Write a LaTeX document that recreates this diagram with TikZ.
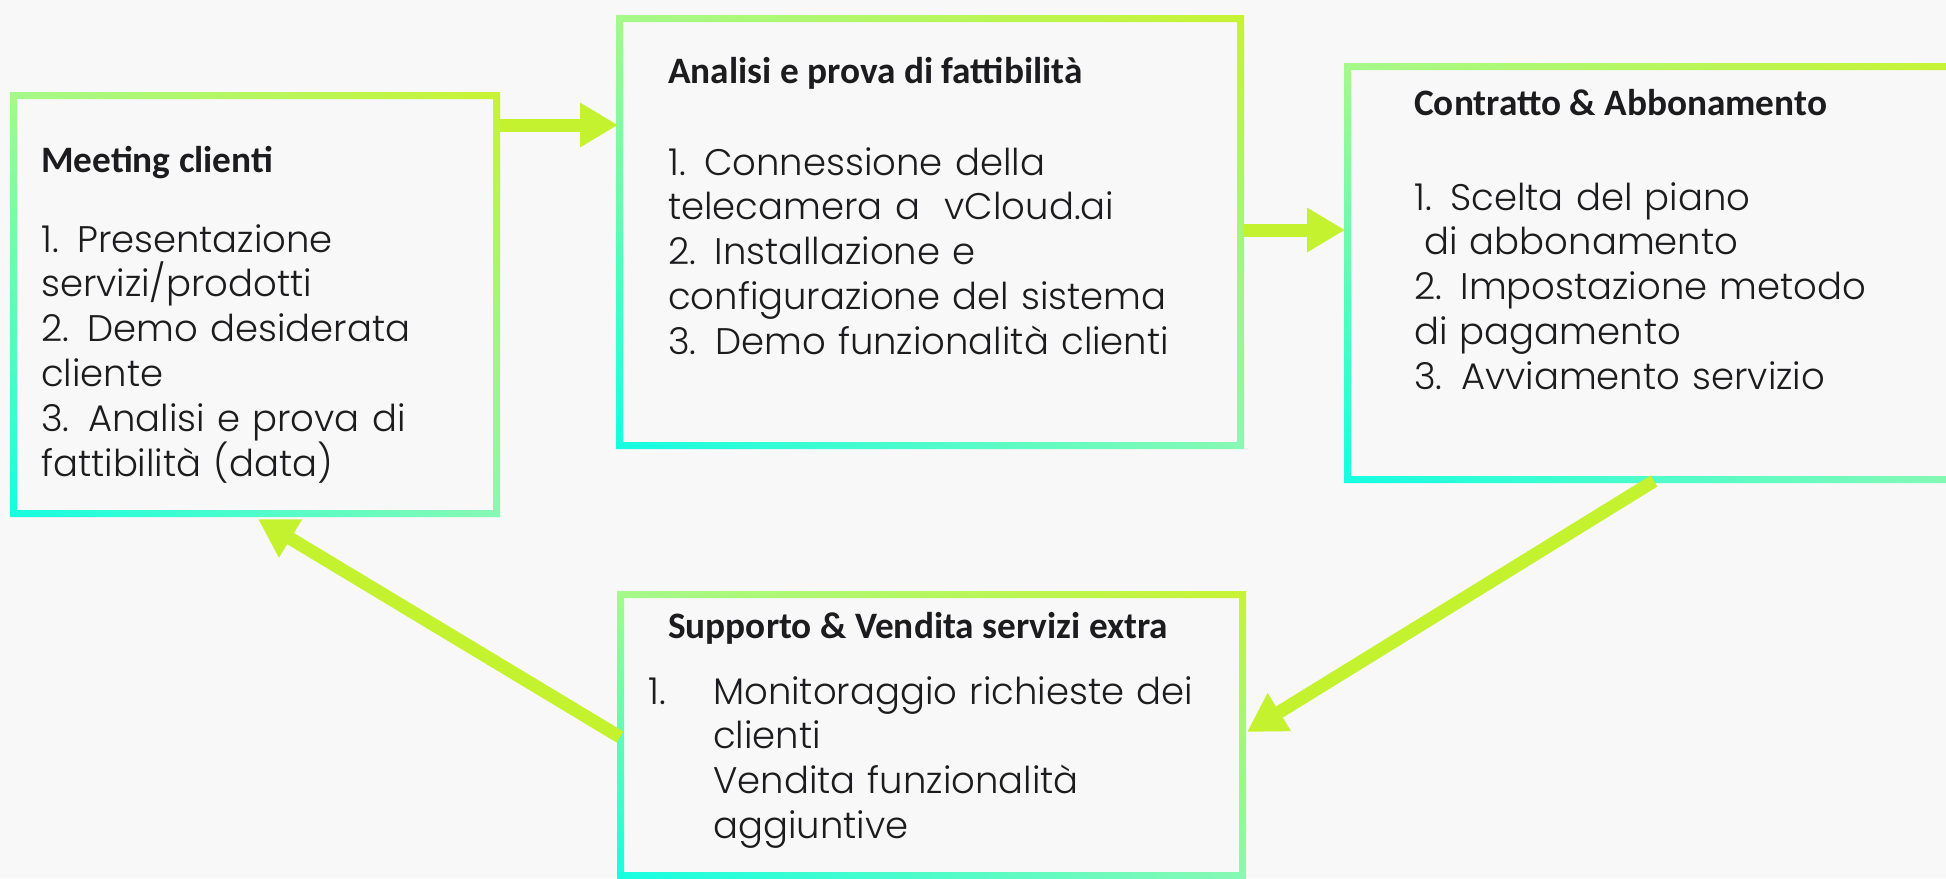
\documentclass[tikz,border=0pt]{standalone}
\usepackage{fontspec}
\newfontfamily\bodyfont{Poppins Light}
\newfontfamily\titlefont{Carlito}
\usetikzlibrary{arrows.meta, positioning, shadings}

\definecolor{pagebg}{RGB}{248,248,248}
\definecolor{framecyan}{RGB}{20,255,226}
\definecolor{framelime}{RGB}{200,243,50}
\definecolor{frametl}{RGB}{165,249,138}
\definecolor{framebr}{RGB}{135,249,180}
\definecolor{arrowlime}{RGB}{196,242,47}
\definecolor{ink}{RGB}{28,28,30}

\begin{document}
\begin{tikzpicture}[x=1pt, y=-1pt,
    stagebox/.style={rectangle, inner sep=0pt, outer sep=0pt, anchor=north west},
    stageframe/.style={even odd rule, lower left=framecyan, upper left=frametl,
        upper right=framelime, lower right=framebr},
    stagetitle/.style={anchor=base west, inner sep=0pt, text=ink,
        font=\titlefont\bfseries\fontsize{37.3}{44}\selectfont},
    stagebody/.style={anchor=base west, inner sep=0pt, text=ink, align=left,
        text width=560pt, font=\bodyfont\fontsize{37}{44.8}\selectfont},
    flowarrow/.style={draw=arrowlime, line width=13pt,
        -{Triangle[length=38pt, width=42pt]}}]

    \useasboundingbox (0,0) rectangle (1946,878);
    \fill[pagebg] (0,0) rectangle (1946,878);

    % the four stages
    \node[stagebox, minimum width=490pt, minimum height=425pt] (mc) at (10,92) {};
    \node[stagebox, minimum width=628pt, minimum height=434pt] (an) at (616,15) {};
    \node[stagebox, minimum width=620pt, minimum height=420pt] (ca) at (1344,63) {};
    \node[stagebox, minimum width=629pt, minimum height=288pt] (sv) at (617,591) {};

    \foreach \b in {mc,an,ca,sv}
        \shade[stageframe] (\b.south west) rectangle (\b.north east)
            ([shift={(7pt,7pt)}]\b.south west) rectangle ([shift={(-7pt,-7pt)}]\b.north east);

    % texts
    \node[stagetitle] (mctitle) at ([shift={(31pt,-80pt)}]mc.north west) {Meeting clienti};
    \node[stagebody] (mcbody) at ([shift={(31pt,-160pt)}]mc.north west)
        {1. Presentazione\\servizi/prodotti\\2. Demo desiderata\\cliente\\3. Analisi e prova di\\fattibilità (data)};

    \node[stagetitle] (antitle) at ([shift={(52pt,-68pt)}]an.north west) {Analisi e prova di fattibilità};
    \node[stagebody] (anbody) at ([shift={(52pt,-160pt)}]an.north west)
        {1. Connessione della\\telecamera a~\ vCloud.ai\\2. Installazione e\\configurazione del sistema\\3. Demo funzionalità clienti};

    \node[stagetitle] (catitle) at ([shift={(70pt,-52pt)}]ca.north west) {Contratto \& Abbonamento};
    \node[stagebody] (cabody) at ([shift={(70pt,-147pt)}]ca.north west)
        {1. Scelta del piano\\\hspace*{10pt}di abbonamento\\2. Impostazione metodo\\di pagamento\\3. Avviamento servizio};

    \node[stagetitle] (svtitle) at ([shift={(51pt,-47pt)}]sv.north west) {Supporto \& Vendita servizi extra};
    \node[stagebody] (svbody) at ([shift={(31pt,-113pt)}]sv.north west)
        {\makebox[65pt][l]{1.}Monitoraggio richieste dei\\\hspace*{65pt}clienti\\\hspace*{65pt}Vendita funzionalità\\\hspace*{65pt}aggiuntive};

    % flow
    \draw[flowarrow] ([yshift=-33pt]mc.north east) -- ([shift={(2pt,-110pt)}]an.north west);
    \draw[flowarrow] ([yshift=-215pt]an.north east) -- ([shift={(1pt,-167pt)}]ca.north west);
    \draw[flowarrow] ([shift={(310pt,2pt)}]ca.south west) -- ([shift={(1pt,-141pt)}]sv.north east);
    \draw[flowarrow] ([shift={(3pt,-146pt)}]sv.north west) -- ([shift={(248pt,-2pt)}]mc.south west);
\end{tikzpicture}
\end{document}
